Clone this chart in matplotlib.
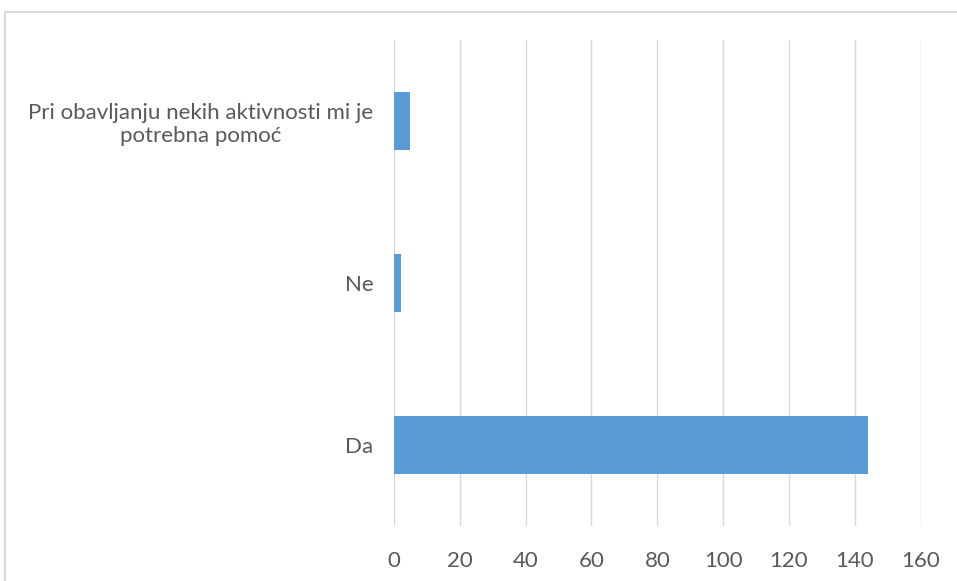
import matplotlib.pyplot as plt
from matplotlib.patches import Rectangle

# data
categories = ["Da", "Ne", "Pri obavljanju nekih aktivnosti mi je\npotrebna pomoć"]
values = [144, 2, 5]
x_ticks = [0, 20, 40, 60, 80, 100, 120, 140, 160]

plt.rcParams['font.family'] = ['Lato', 'DejaVu Sans']

fig = plt.figure(figsize=(9.57, 5.81), dpi=100)
ax = fig.add_axes([0.4117, 0.0947, 0.5503, 0.8365])

# chart border (runs off the right and bottom edge like the screenshot)
fig.patches.append(Rectangle((5 / 957, -0.1), 1.2, 1 - 12 / 581 + 0.1,
                             transform=fig.transFigure, fill=False,
                             edgecolor='#d9d9d9', linewidth=1.5))

pos = range(len(categories))
ax.barh(pos, values, height=0.355, color='#5b9bd5', zorder=3)

ax.set_xlim(0, 160)
ax.set_ylim(-0.5, 2.5)
ax.set_xticks(x_ticks)
ax.set_yticks(list(pos))
ax.set_yticklabels(categories)
for lbl in ax.get_yticklabels():
    lbl.set_multialignment('center')

ax.grid(axis='x', color='#d9d9d9', linewidth=1, zorder=0)
for s in ax.spines.values():
    s.set_visible(False)
ax.tick_params(axis='both', length=0, labelcolor='#595959', labelsize=16)
ax.tick_params(axis='x', pad=18)
ax.tick_params(axis='y', pad=15)

fig.savefig("out.png", dpi=100)
